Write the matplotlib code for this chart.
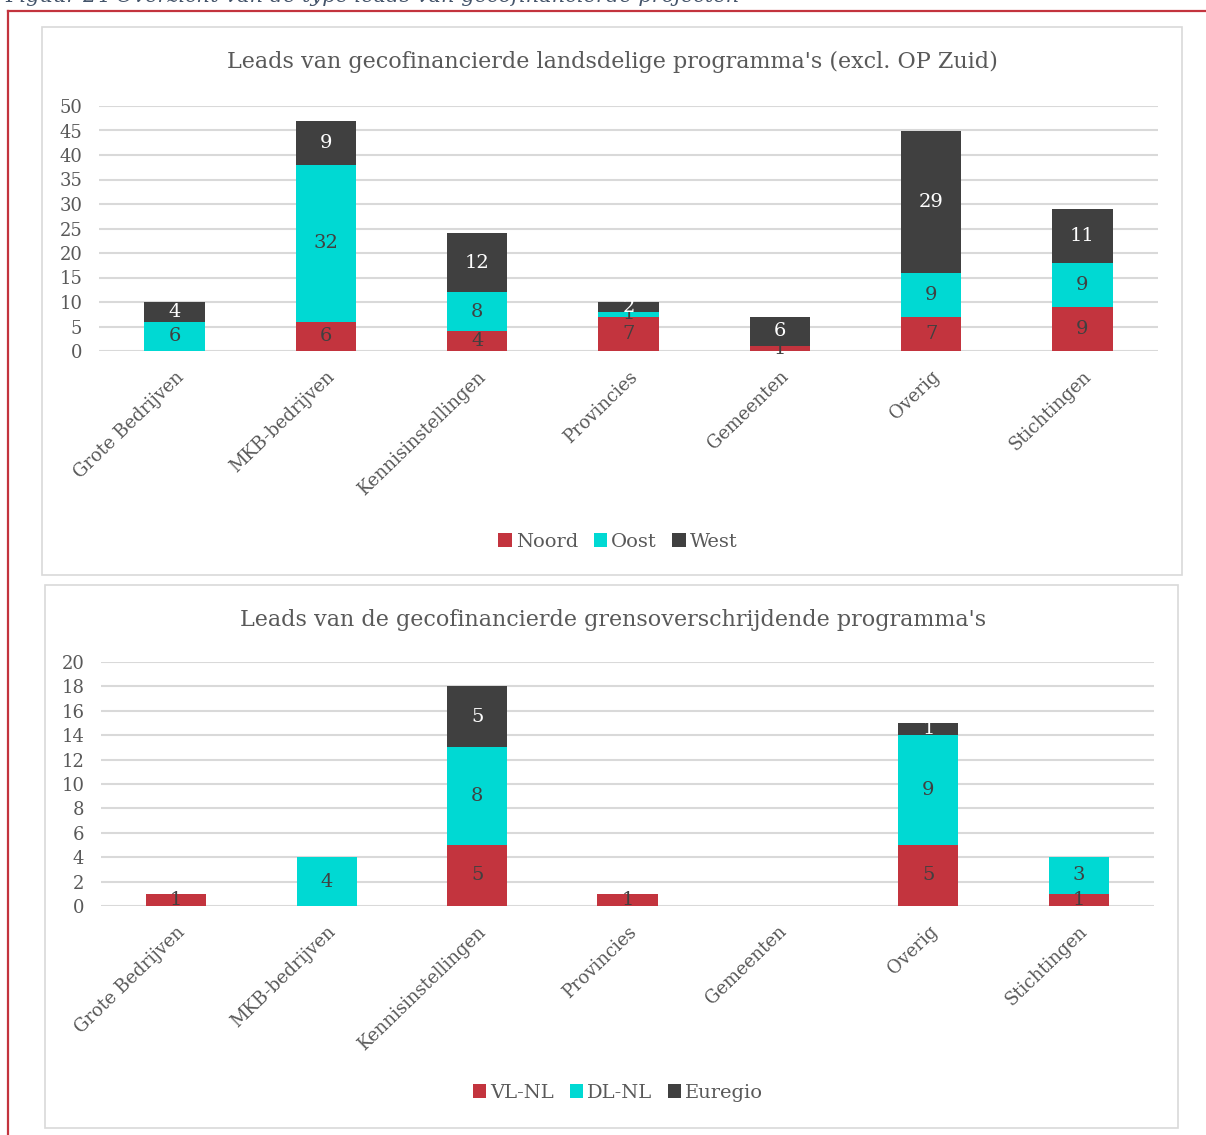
import matplotlib
matplotlib.use("Agg")
import matplotlib.pyplot as plt
from matplotlib.patches import Rectangle
from matplotlib.lines import Line2D
import numpy as np

plt.rcParams['font.family'] = ['DejaVu Serif']

# data
categories = ['Grote Bedrijven', 'MKB-bedrijven', 'Kennisinstellingen', 'Provincies',
              'Gemeenten', 'Overig', 'Stichtingen']

top_title = "Leads van gecofinancierde landsdelige programma's (excl. OP Zuid)"
top_series = ['Noord', 'Oost', 'West']
noord = [0, 6, 4, 7, 1, 7, 9]
oost = [6, 32, 8, 1, 0, 9, 9]
west = [4, 9, 12, 2, 6, 29, 11]

bot_title = "Leads van de gecofinancierde grensoverschrijdende programma's"
bot_series = ['VL-NL', 'DL-NL', 'Euregio']
vlnl = [1, 0, 5, 1, 0, 5, 1]
dlnl = [0, 4, 8, 0, 0, 9, 3]
euregio = [0, 0, 5, 0, 0, 1, 0]

colors = ['#C3343E', '#00D9D3', '#404040']
label_colors = ['#404040', '#404040', 'white']
grid_c = '#D9D9D9'
text_c = '#595959'

W, H = 1206, 1135
fig = plt.figure(figsize=(W / 100, H / 100), dpi=100)


def fx(px):
    return px / W


def fy(py):
    return 1 - py / H


# bijschrift (bovenaan afgesneden) en rode rand
fig.text(fx(5), fy(2), 'Figuur 24 Overzicht van de type leads van gecofinancierde projecten',
         fontsize=15, style='italic', color='#44546A', va='baseline', ha='left')
fig.add_artist(Line2D([fx(8), fx(1206)], [fy(11), fy(11)], color='#C3343E', lw=1.6,
                      transform=fig.transFigure))
fig.add_artist(Line2D([fx(8), fx(8)], [fy(11), fy(1135)], color='#C3343E', lw=1.6,
                      transform=fig.transFigure))

# kaders van de twee grafieken
for (x0, y0, x1, y1) in [(42, 27, 1182, 575), (45, 585, 1178, 1128)]:
    fig.add_artist(Rectangle((fx(x0), fy(y1)), fx(x1) - fx(x0), fy(y0) - fy(y1),
                             transform=fig.transFigure, fill=False, edgecolor=grid_c, lw=1.2))


def draw_panel(box, ymax, ystep, series_vals, names, title, title_y, legend_y):
    x0, x1, ytop, y0 = box
    ax = fig.add_axes([fx(x0), fy(y0), fx(x1) - fx(x0), fy(ytop) - fy(y0)])
    x = np.arange(len(categories))
    bottom = np.zeros(len(categories))
    for vals, c, lc, nm in zip(series_vals, colors, label_colors, names):
        vals = np.array(vals, dtype=float)
        ax.bar(x, vals, 0.4, bottom=bottom, color=c, label=nm, zorder=3)
        for xi, v, b in zip(x, vals, bottom):
            if v > 0:
                ax.text(xi, b + v / 2, f'{int(v)}', ha='center', va='center',
                        fontsize=14, color=lc, zorder=4)
        bottom += vals
    ax.set_xlim(-0.5, len(categories) - 0.5)
    ax.set_ylim(0, ymax)
    ax.set_yticks(np.arange(0, ymax + 1, ystep))
    ax.yaxis.grid(True, color=grid_c, lw=1.5, zorder=0)
    ax.set_axisbelow(True)
    for s in ax.spines.values():
        s.set_visible(False)
    ax.tick_params(axis='both', length=0, colors=text_c, labelsize=13)
    ax.tick_params(axis='y', pad=12)
    ax.set_xticks(x)
    ax.set_xticklabels(categories, rotation=44, ha='right', va='top',
                       rotation_mode='anchor', fontsize=13, color=text_c)
    ax.tick_params(axis='x', pad=12)
    fig.text(0.508, fy(title_y), title, ha='center', va='center', fontsize=16, color=text_c)
    ax.legend(loc='center', bbox_to_anchor=(fx(618), fy(legend_y)), bbox_transform=fig.transFigure,
              ncol=3, frameon=False, fontsize=14, handlelength=0.7, handleheight=0.7,
              handletextpad=0.2, columnspacing=0.8, labelcolor=text_c)
    return ax


draw_panel((99, 1158, 106, 351), 50, 5, [noord, oost, west], top_series, top_title, 62, 542)
draw_panel((101, 1154, 662, 906), 20, 2, [vlnl, dlnl, euregio], bot_series, bot_title, 620, 1093)

fig.savefig('out.png', dpi=100)
